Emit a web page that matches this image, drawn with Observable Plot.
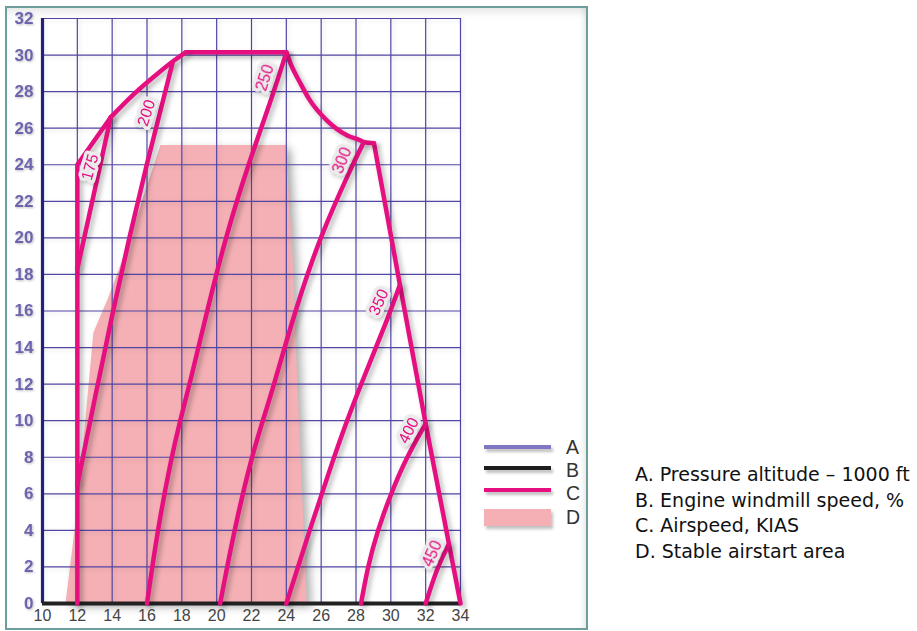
<!DOCTYPE html>
<html><head><meta charset="utf-8">
<script src="https://cdn.jsdelivr.net/npm/d3@7"></script>
<script src="https://cdn.jsdelivr.net/npm/@observablehq/plot@0.6"></script>
<style>
body{margin:0;background:#fff;}
#wrap{position:relative;width:917px;height:631px;overflow:hidden;background:#fff;}
#frame{position:absolute;left:5px;top:6px;width:579px;height:620px;border:2px solid #6e9e9c;
  box-shadow: inset 0 9px 8px -5px rgba(0,0,0,0.10), inset -7px 0 7px -5px rgba(0,0,0,0.10);}
#chart{position:absolute;left:0;top:0;}
.lgline{position:absolute;left:484px;width:67px;box-shadow:2px 3px 3px rgba(0,0,0,0.25);}
.lgtxt{position:absolute;left:566px;font-family:"Liberation Sans",Arial,sans-serif;font-size:19.5px;line-height:19px;color:#333;}
#notes{position:absolute;left:635px;top:462px;font-family:"DejaVu Sans",Verdana,sans-serif;font-size:19px;line-height:25.7px;color:#111;white-space:nowrap;}
</style></head>
<body>
<div id="wrap">
  <div id="frame"></div>
  <div id="chart"></div>
</div>
<script>
// ---- data ----
const xTicks = [10,12,14,16,18,20,22,24,26,28,30,32,34];
const yTicks = [0,2,4,6,8,10,12,14,16,18,20,22,24,26,28,30,32];

// airstart envelope boundary
const envStraightLeft = [[12,0],[12,24],[13.92,26.6]];
const envArcLeft = [[13.92,26.6],[15.26,27.88],[16.6,28.98],[17.55,29.7],[18.22,30.15]];
const envTop = [[18.22,30.15],[24,30.15]];
const envArcRight = [[24,30.15],[24.25,29.52],[24.82,28.43],[25.3,27.6],[26.35,26.4],[27.5,25.6],[28.26,25.33],[28.45,25.24],[29.03,25.18]];
const envStraightRight = [[29.03,25.18],[30.52,17.44],[32,9.83],[34,0]];

// airspeed (KIAS) lines
const kias175 = [[12,18.3],[13.92,26.6]];
const kias200 = [[12,6.5],[13,11.2],[14,15.8],[15,20.1],[16,24.1],[17,27.8],[17.46,29.55]];
const kias250 = [[16,0],[16.6,4],[17.4,8],[17.9,10],[18.45,12],[19.45,16],[20.5,20],[21.8,24],[23.3,28],[24,30.15]];
const kias300 = [[20.2,0],[21.0,4],[22.0,8],[22.65,10],[23.3,12],[24.5,16],[25.9,20],[27.8,24],[28.45,25.24]];
const kias350 = [[24,0],[25.33,4],[26.73,8],[27.48,10],[28.29,12],[30.0,16],[30.52,17.44]];
const kias400 = [[28.29,0],[28.67,2],[29.24,4],[30.0,6],[30.9,8],[32,9.83]];
const kias450 = [[32,0],[32.67,2],[33.33,3.25]];

// speed labels
const labelText = ["175","200","250","300","350","400","450"];
const labelX = [12.73,15.97,22.78,27.21,29.31,31.03,32.38];
const labelY = [23.87,26.83,28.75,24.23,16.48,9.46,2.72];
const labelAngle = [-75,-72,-72,-68,-66,-63,-66];

// stable airstart area (left and right edges at the same altitudes)
const stableY = [0,5,14.8,16.7,18.94,25.05];
const stableLeft = [11.35,12.0,12.95,13.8,14.68,16.8];
const stableRight = [25.2,24.98,24.54,24.47,24.39,24.0];

// legend and notes
const legendKeys = ["A","B","C","D"];
const notes = ["A. Pressure altitude – 1000 ft","B. Engine windmill speed, %","C. Airspeed, KIAS","D. Stable airstart area"];

// ---- build tables ----
const toRows = (pts, id) => pts.map(([x,y]) => ({x, y, id}));
const straight = [...toRows(envStraightLeft,"a"),...toRows(envTop,"b"),...toRows(envStraightRight,"c")];
const curved = [...toRows(envArcLeft,"d"),...toRows(envArcRight,"e")];
const speedLines = [
  ...toRows(kias175,"175"),...toRows(kias200,"200"),...toRows(kias250,"250"),...toRows(kias300,"300"),
  ...toRows(kias350,"350"),...toRows(kias400,"400"),...toRows(kias450,"450")];
const labels = labelText.map((t,i)=>({t, x:labelX[i], y:labelY[i], a:labelAngle[i]}));
const stable = stableY.map((y,i)=>({y, x1:stableLeft[i], x2:stableRight[i]}));

const PINK = "#e60f80";
const GRID = "#5046a4";

const plot = Plot.plot({
  width: 917, height: 631,
  marginLeft: 42, marginRight: 457, marginTop: 18, marginBottom: 28,
  x: {domain: [10,34]},
  y: {domain: [0,32]},
  style: {background: "transparent", fontFamily: "'Liberation Sans', Arial, sans-serif", overflow: "visible"},
  marks: [
    Plot.areaX(stable, {y: "y", x1: "x1", x2: "x2", fill: "#f4b0b5"}),
    Plot.gridX(xTicks, {stroke: GRID, strokeOpacity: 1, strokeWidth: 1.2}),
    Plot.gridY(yTicks, {stroke: GRID, strokeOpacity: 1, strokeWidth: 1.2}),
    Plot.ruleX([10], {stroke: "#25207a", strokeWidth: 3.2}),
    Plot.ruleY([0], {stroke: "#222", strokeWidth: 4}),
    Plot.axisY(yTicks, {tickSize: 0, tickPadding: 9, fontSize: 17, fontWeight: 600, fill: "#6c64ae", label: null}),
    Plot.axisX(xTicks, {tickSize: 0, tickPadding: 6, fontSize: 16, fill: "#444", label: null}),
    Plot.line(straight, {x: "x", y: "y", z: "id", stroke: PINK, strokeWidth: 4.5, strokeLinejoin: "round", strokeLinecap: "round"}),
    Plot.line(curved, {x: "x", y: "y", z: "id", curve: "monotone-x", stroke: PINK, strokeWidth: 4.5, strokeLinecap: "round"}),
    Plot.line(speedLines, {x: "x", y: "y", z: "id", curve: "basis", stroke: PINK, strokeWidth: 4.5, strokeLinecap: "round"}),
    Plot.text(labels, {x: "x", y: "y", text: "t", rotate: "a", fill: PINK, stroke: "#ebebeb", strokeWidth: 7, fontSize: 16})
  ]
});
document.getElementById("chart").appendChild(plot);
const setF = (sel, f) => plot.querySelectorAll(sel).forEach(g => g.style.filter = f);
setF(':scope > g[aria-label="line"]', "drop-shadow(3px 3px 2.5px rgba(0,0,0,0.28))");
setF(':scope > g[aria-label="area"]', "drop-shadow(5px 4px 4px rgba(0,0,0,0.3))");
setF(':scope > g[aria-label="x-grid"], :scope > g[aria-label="y-grid"]', "drop-shadow(2px 2px 2px rgba(0,0,0,0.12))");
setF(':scope > g[aria-label="text"]', "drop-shadow(2px 2px 2px rgba(0,0,0,0.22))");
setF(':scope > g[aria-label="y-axis tick label"]', "drop-shadow(1px 1px 1px rgba(0,0,0,0.25))");

// legend (A-D) and notes
const wrap = document.getElementById("wrap");
const legendColors = ["#7f76c4","#1e1e1e",PINK,"#f4b0b5"];
const legendTop = [445,466.3,487.7,509.3];
const legendH = [4,4,4,16.7];
const letterTop = [438,461,484,507.5];
legendKeys.forEach((k,i)=>{
  const d = document.createElement("div");
  d.className = "lgline";
  d.style.top = legendTop[i]+"px"; d.style.height = legendH[i]+"px"; d.style.background = legendColors[i];
  wrap.appendChild(d);
  const t = document.createElement("div");
  t.className = "lgtxt"; t.style.top = letterTop[i]+"px"; t.textContent = k;
  wrap.appendChild(t);
});
const nd = document.createElement("div"); nd.id = "notes";
nd.innerHTML = notes.map(s=>"<div>"+s+"</div>").join("");
wrap.appendChild(nd);
</script>
</body></html>
